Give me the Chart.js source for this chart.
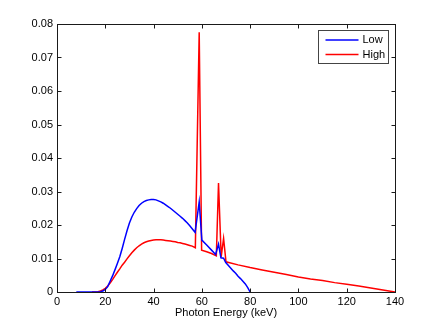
<!DOCTYPE html>
<html>
<head>
<meta charset="utf-8">
<script src="https://cdn.jsdelivr.net/npm/chart.js@4/dist/chart.umd.min.js"></script>
<style>
  html, body { margin: 0; padding: 0; background: #fff; }
  #wrap { width: 436px; height: 328px; }
</style>
</head>
<body>
<div id="wrap"><canvas id="spectrum" width="436" height="328"></canvas></div>
<script>
// spectra (keV, normalised flux)
const lowEnergy = [8, 17, 18, 19, 20, 21, 22, 23, 24, 25, 26, 27, 28, 29, 30, 31, 32, 33, 34, 35, 36, 37, 38, 39,
    40, 41, 42, 43, 44, 45, 46, 47, 48, 49, 50, 51, 52, 53, 54, 55, 56, 57.2,
    58.9, 60, 62, 64, 65.7, 66.9, 67.9, 69, 69.9, 71, 72, 73, 74, 75, 76, 77, 78, 79, 80];
const lowFlux = [0, 0, 0.0001, 0.0003, 0.0008, 0.0016, 0.0032, 0.0048, 0.0066, 0.0085, 0.0105, 0.0130,
    0.0157, 0.0183, 0.0206, 0.0224, 0.0238, 0.0249, 0.0258, 0.0265, 0.0270, 0.0273, 0.0275, 0.0276,
    0.0276, 0.0275, 0.0272, 0.0269, 0.0265, 0.0260, 0.0255, 0.0250, 0.0244, 0.0238, 0.0232, 0.0226,
    0.0220, 0.0213, 0.0206, 0.0198, 0.0189, 0.0178,
    0.0269, 0.0155, 0.0140, 0.0125, 0.0112, 0.0143, 0.0102, 0.0101, 0.0088, 0.0079, 0.0071, 0.0063,
    0.0056, 0.0047, 0.0040, 0.0032, 0.0024, 0.0013, 0];

const highEnergy = [14.5, 16, 17, 18, 19, 20, 21, 22, 23, 24, 25, 26, 27, 28, 29, 30, 31, 32, 33, 34, 35, 36, 37,
    38, 39, 40, 41, 42, 43, 44, 45, 46, 47, 48, 49, 50, 51, 52, 53, 54, 55, 56, 57.3,
    58.9, 59.9, 62, 64, 66, 66.9, 68, 69, 70, 75, 80, 85, 90, 95, 100, 105, 110, 115, 120, 125, 130, 135, 140];
const highFlux = [0, 0, 0.0001, 0.0003, 0.0006, 0.0011, 0.0018, 0.0027, 0.0037, 0.0048, 0.0059, 0.0069,
    0.0080, 0.0089, 0.0099, 0.0108, 0.0117, 0.0125, 0.0132, 0.0138, 0.0143, 0.0147, 0.0150, 0.0152,
    0.0154, 0.0155, 0.0156, 0.0156, 0.0156, 0.0155, 0.0154, 0.0153, 0.0152, 0.0151, 0.0150, 0.0148,
    0.0147, 0.0145, 0.0143, 0.0141, 0.0139, 0.0137, 0.0132,
    0.0775, 0.0125, 0.0120, 0.0115, 0.0108, 0.0325, 0.0105, 0.0160, 0.0090, 0.0081, 0.0073, 0.0066,
    0.0059, 0.0052, 0.0045, 0.0039, 0.0034, 0.0028, 0.0023, 0.0018, 0.0012, 0.0006, 0];

const seriesNames = ["Low", "High"];
const xTicks = [0, 20, 40, 60, 80, 100, 120, 140];
const yTicks = [0, 0.01, 0.02, 0.03, 0.04, 0.05, 0.06, 0.07, 0.08];

const FONT = "'Liberation Sans', Arial, sans-serif";

function toPoints(xs, ys) {
    return xs.map((x, i) => ({ x: x, y: ys[i] }));
}

// matlab-style box with inward ticks, plus the legend inside the axes
const matlabBox = {
    id: "matlabBox",
    afterDraw(chart) {
        const ctx = chart.ctx;
        const a = chart.chartArea;
        const xs = chart.scales.x, ys = chart.scales.y;
        const L = Math.round(a.left) + 0.5, R = Math.round(a.right) + 0.5;
        const T = Math.round(a.top) + 0.5, B = Math.round(a.bottom) + 0.5;
        ctx.save();
        ctx.strokeStyle = "#1a1a1a";
        ctx.lineWidth = 1;
        ctx.strokeRect(L, T, R - L, B - T);
        ctx.beginPath();
        xTicks.forEach(v => {
            const p = Math.round(xs.getPixelForValue(v)) + 0.5;
            ctx.moveTo(p, B); ctx.lineTo(p, B - 4);
            ctx.moveTo(p, T); ctx.lineTo(p, T + 4);
        });
        yTicks.forEach(v => {
            const p = Math.round(ys.getPixelForValue(v)) + 0.5;
            ctx.moveTo(L, p); ctx.lineTo(L + 4, p);
            ctx.moveTo(R, p); ctx.lineTo(R - 4, p);
        });
        ctx.stroke();

        // legend
        const bx = 318.5, by = 30.5, bw = 70, bh = 33;
        ctx.fillStyle = "#fff";
        ctx.fillRect(bx, by, bw, bh);
        ctx.strokeStyle = "#444";
        ctx.strokeRect(bx, by, bw, bh);
        ctx.font = "11px " + FONT;
        ctx.textBaseline = "middle";
        chart.data.datasets.forEach((ds, i) => {
            const yy = by + 9.5 + i * 14.5;
            ctx.strokeStyle = ds.borderColor;
            ctx.lineWidth = 1.5;
            ctx.beginPath();
            ctx.moveTo(bx + 7, yy); ctx.lineTo(bx + 40, yy);
            ctx.stroke();
            ctx.fillStyle = "#000";
            ctx.fillText(ds.label, bx + 44, yy);
        });
        ctx.restore();
    }
};

const ctx = document.getElementById("spectrum").getContext("2d");
new Chart(ctx, {
    type: "line",
    data: {
        datasets: [{
            label: seriesNames[0],
            data: toPoints(lowEnergy, lowFlux),
            borderColor: "#0000ff",
            borderWidth: 1.5,
            pointRadius: 0,
            tension: 0,
            fill: false
        }, {
            label: seriesNames[1],
            data: toPoints(highEnergy, highFlux),
            borderColor: "#ff0000",
            borderWidth: 1.5,
            pointRadius: 0,
            tension: 0,
            fill: false
        }]
    },
    options: {
        responsive: false,
        animation: false,
        events: [],
        layout: { padding: { top: 24, right: 41, left: 0, bottom: 8 } },
        plugins: {
            legend: { display: false },
            tooltip: { enabled: false }
        },
        scales: {
            x: {
                type: "linear",
                min: 0,
                max: 140,
                afterBuildTicks: s => { s.ticks = xTicks.map(v => ({ value: v })); },
                afterFit: s => { s.height = 28; },
                grid: { display: false, drawTicks: false },
                border: { display: false },
                ticks: { color: "#000", padding: 3, font: { family: FONT, size: 11 }, maxRotation: 0 },
                title: {
                    display: true,
                    text: "Photon Energy (keV)",
                    color: "#000",
                    padding: { top: 0, bottom: 0 },
                    font: { family: FONT, size: 11 }
                }
            },
            y: {
                type: "linear",
                min: 0,
                max: 0.08,
                afterBuildTicks: s => { s.ticks = yTicks.map(v => ({ value: v })); },
                afterFit: s => { s.width = 57; },
                grid: { display: false, drawTicks: false },
                border: { display: false },
                ticks: {
                    color: "#000",
                    padding: 4,
                    font: { family: FONT, size: 11 },
                    callback: v => v === 0 ? "0" : v.toFixed(2)
                }
            }
        }
    },
    plugins: [matlabBox]
});
</script>
</body>
</html>
